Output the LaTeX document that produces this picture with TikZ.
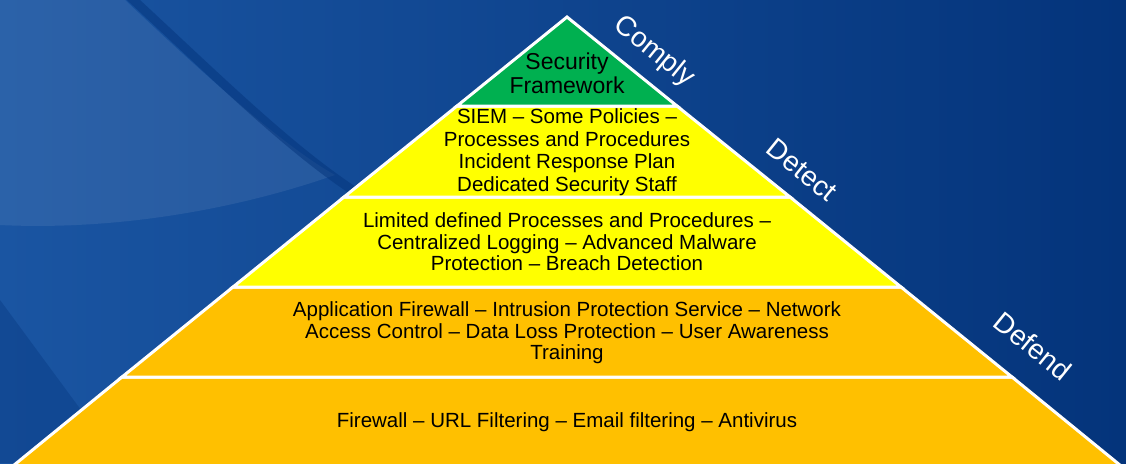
\documentclass[tikz,border=0pt]{standalone}
\usepackage{fontspec}
\setmainfont{Liberation Sans}
\usetikzlibrary{positioning}
\definecolor{bgdark}{HTML}{04347B}
\definecolor{bglight}{HTML}{1A55A2}
\definecolor{framegreen}{HTML}{00B050}
\definecolor{detectyellow}{HTML}{FFFF00}
\definecolor{defendorange}{HTML}{FFC000}
\tikzset{
  layer/.style={align=center, text=black, font=\fontsize{20.5}{21.5}\selectfont},
  side/.style={text=white, font=\fontsize{28}{30}\selectfont, rotate=-39},
  band/.style={draw=white, line width=3pt, line join=miter}
}

\begin{document}
\begin{tikzpicture}[x=1pt,y=-1pt]
\useasboundingbox (0,0) rectangle (1126,463);
\clip (0,0) rectangle (1126,463);
% background
\shade[left color=bglight, right color=bgdark] (0,0) rectangle (1126,463);
\fill[white, opacity=0.08] (0,0) -- (125,0) .. controls (220,90) and (290,150) .. (335,175)
   .. controls (220,215) and (100,230) .. (0,225) -- cycle;
\draw[bgdark, opacity=0.5, line width=9pt] (128,-5) .. controls (220,80) and (290,150) .. (360,195);
\fill[bgdark, opacity=0.35] (0,300) -- (120,463) -- (0,463) -- cycle;

% pyramid corners
\coordinate (apex) at (567,17);
\coordinate (bl) at (8,470);
\coordinate (br) at (1126,470);

% bands
\filldraw[band, fill=defendorange] (122,377) -- (1012,377) -- (br) -- (bl) -- cycle;
\filldraw[band, fill=defendorange] (233,287) -- (901,287) -- (1012,377) -- (122,377) -- cycle;
\filldraw[band, fill=detectyellow] (344,197) -- (790,197) -- (901,287) -- (233,287) -- cycle;
\filldraw[band, fill=detectyellow] (457,106) -- (677,106) -- (790,197) -- (344,197) -- cycle;
\filldraw[band, fill=framegreen] (apex) -- (677,106) -- (457,106) -- cycle;

% texts
\node[layer, font=\fontsize{23}{24}\selectfont] (frame) at (567,73) {Security\\Framework};
\node[layer, font=\fontsize{20.5}{22.5}\selectfont] (siem) at (567,152) {SIEM -- Some Policies --\\Processes and Procedures\\Incident Response Plan\\Dedicated Security Staff};
\node[layer] (limited) at (567,242) {Limited defined Processes and Procedures --\\Centralized Logging -- Advanced Malware\\Protection -- Breach Detection};
\node[layer] (appfw) at (567,333) {Application Firewall -- Intrusion Protection Service -- Network\\Access Control -- Data Loss Protection -- User Awareness\\Training};
\node[layer] (firewall) at (567,422) {Firewall -- URL Filtering -- Email filtering -- Antivirus};

\node[side] (comply) at (654,52) {Comply};
\node[side] (detect) at (802,170) {Detect};
\node[side] (defend) at (1033,346) {Defend};
\end{tikzpicture}
\end{document}
